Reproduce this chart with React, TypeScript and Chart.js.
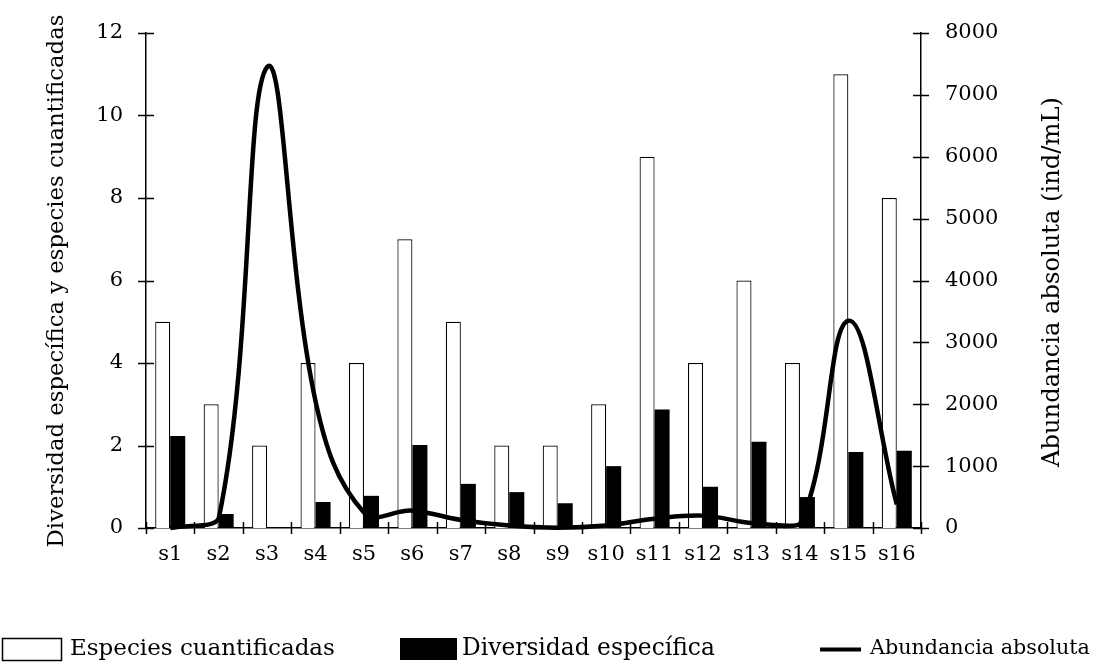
import React, { useEffect, useRef } from "react";
import { Chart, registerables } from "chart.js";

Chart.register(...registerables);

const categories = ["s1", "s2", "s3", "s4", "s5", "s6", "s7", "s8", "s9", "s10", "s11", "s12", "s13", "s14", "s15", "s16"];
const especiesCuantificadas = [5, 3, 2, 4, 4, 7, 5, 2, 2, 3, 9, 4, 6, 4, 11, 8];
const diversidadEspecifica = [2.23, 0.34, 0, 0.63, 0.78, 2.01, 1.07, 0.87, 0.6, 1.5, 2.87, 1.0, 2.09, 0.75, 1.84, 1.87];
const abundanciaAbsoluta = [0, 150, 7450, 2050, 250, 280, 130, 40, 5, 40, 150, 200, 80, 60, 3350, 380];

const leftTitle = "Diversidad específica y especies cuantificadas";
const rightTitle = "Abundancia absoluta (ind/mL)";
const legendLabels = ["Especies cuantificadas", "Diversidad específica", "Abundancia absoluta"];

const FONT = "'DejaVu Serif', serif";
const FS = 21;

function fitFont(ctx: CanvasRenderingContext2D, text: string, target: number) {
  ctx.font = `${FS}px ${FONT}`;
  const w = ctx.measureText(text).width;
  const size = (FS * target) / w;
  ctx.font = `${size}px ${FONT}`;
}

const decorPlugin = {
  id: "decor",
  afterDraw(chart: any) {
    const ctx = chart.ctx;
    const { left, right, bottom } = chart.chartArea;
    const yL = chart.scales.y;
    const yR = chart.scales.y1;
    ctx.save();
    ctx.strokeStyle = "#000";
    ctx.lineWidth = 1.5;
    yL.ticks.forEach((t: any) => {
      const py = Math.round(yL.getPixelForValue(t.value)) + 0.5;
      ctx.beginPath();
      ctx.moveTo(left - 8, py);
      ctx.lineTo(left + 8, py);
      ctx.stroke();
    });
    yR.ticks.forEach((t: any) => {
      const py = Math.round(yR.getPixelForValue(t.value)) + 0.5;
      ctx.beginPath();
      ctx.moveTo(right - 8, py);
      ctx.lineTo(right + 8, py);
      ctx.stroke();
    });
    const n = categories.length;
    const w = (right - left) / n;
    for (let i = 0; i <= n; i++) {
      const px = Math.round(left + i * w) + 0.5;
      ctx.beginPath();
      ctx.moveTo(px, bottom - 6);
      ctx.lineTo(px, bottom + 6);
      ctx.stroke();
    }
    ctx.fillStyle = "#000";
    ctx.textAlign = "center";
    ctx.textBaseline = "middle";
    ctx.save();
    ctx.translate(57, 281);
    ctx.rotate(-Math.PI / 2);
    fitFont(ctx, leftTitle, 533);
    ctx.fillText(leftTitle, 0, 0);
    ctx.restore();
    ctx.save();
    ctx.translate(1053, 282);
    ctx.rotate(-Math.PI / 2);
    fitFont(ctx, rightTitle, 370);
    ctx.fillText(rightTitle, 0, 0);
    ctx.restore();
    const ly = 649;
    ctx.textAlign = "left";
    ctx.fillStyle = "#fff";
    ctx.fillRect(2.5, 638.5, 59, 22);
    ctx.strokeRect(2.5, 638.5, 59, 22);
    ctx.fillStyle = "#000";
    fitFont(ctx, legendLabels[0], 265);
    ctx.fillText(legendLabels[0], 70, ly);
    ctx.fillRect(400, 638, 57, 22);
    fitFont(ctx, legendLabels[1], 253);
    ctx.fillText(legendLabels[1], 462, ly);
    ctx.lineWidth = 4;
    ctx.beginPath();
    ctx.moveTo(820, ly + 0.5);
    ctx.lineTo(861, ly + 0.5);
    ctx.stroke();
    fitFont(ctx, legendLabels[2], 220);
    ctx.fillText(legendLabels[2], 870, ly);
    ctx.restore();
  },
};

export default function App() {
  const ref = useRef<HTMLCanvasElement | null>(null);
  useEffect(() => {
    document.body.style.margin = "0";
    const canvas = ref.current!;
    const tickFont = { family: FONT, size: FS };
    const chart = new Chart(canvas, {
      data: {
        labels: categories,
        datasets: [
          {
            type: "line",
            label: legendLabels[2],
            data: abundanciaAbsoluta,
            yAxisID: "y1",
            borderColor: "#000",
            borderWidth: 4.5,
            pointRadius: 0,
            tension: 0.4,
            fill: false,
            clip: false,
            order: 0,
          } as any,
          {
            type: "bar",
            label: legendLabels[0],
            data: especiesCuantificadas,
            yAxisID: "y",
            backgroundColor: "#fff",
            borderColor: "#000",
            borderWidth: 1.2,
            barPercentage: 1,
            categoryPercentage: 0.62,
            order: 1,
          } as any,
          {
            type: "bar",
            label: legendLabels[1],
            data: diversidadEspecifica,
            yAxisID: "y",
            backgroundColor: "#000",
            borderColor: "#000",
            borderWidth: 0,
            barPercentage: 1,
            categoryPercentage: 0.62,
            order: 1,
          } as any,
        ],
      },
      options: {
        responsive: false,
        animation: false,
        devicePixelRatio: 1,
        layout: { padding: { top: 33, left: 0, right: 0, bottom: 0 } },
        plugins: { legend: { display: false }, tooltip: { enabled: false } },
        scales: {
          x: {
            type: "category",
            offset: true,
            grid: { display: false, drawTicks: false },
            border: { display: true, color: "#000", width: 1.5 },
            ticks: { color: "#000", font: tickFont, padding: 14, maxRotation: 0, autoSkip: false },
            afterFit: (s: any) => {
              s.height = 134;
              s.paddingLeft = 0;
              s.paddingRight = 0;
            },
          },
          y: {
            position: "left",
            min: 0,
            max: 12,
            grid: { display: false, drawTicks: false },
            border: { display: true, color: "#000", width: 1.5 },
            ticks: { stepSize: 2, color: "#000", font: tickFont, padding: 23 },
            afterFit: (s: any) => {
              s.width = 146;
              s.paddingTop = 0;
              s.paddingBottom = 0;
            },
          },
          y1: {
            position: "right",
            min: 0,
            max: 8000,
            grid: { display: false, drawTicks: false },
            border: { display: true, color: "#000", width: 1.5 },
            ticks: {
              stepSize: 1000,
              color: "#000",
              font: tickFont,
              padding: 24,
              callback: (v: any) => String(v),
            },
            afterFit: (s: any) => {
              s.width = 175;
              s.paddingTop = 0;
              s.paddingBottom = 0;
            },
          },
        },
      } as any,
      plugins: [decorPlugin],
    });
    return () => chart.destroy();
  }, []);
  return (
    <div style={{ width: 1096, height: 662, background: "#fff" }}>
      <canvas ref={ref} width={1096} height={662} />
    </div>
  );
}
